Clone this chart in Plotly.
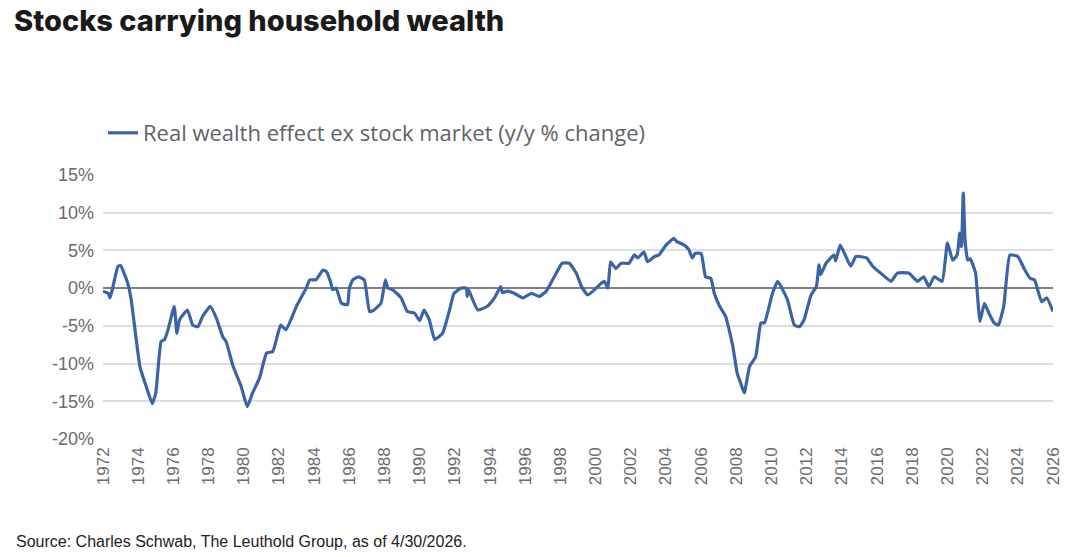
import plotly.graph_objects as go

# ---- data ----
years = [
    1972.0, 1972.3, 1972.4, 1972.55, 1972.85, 1973.0, 1973.4, 1973.6, 1974.1, 1974.45,
    1974.8, 1975.0, 1975.3, 1975.5, 1975.7, 1976.05, 1976.2, 1976.35, 1976.8, 1977.1,
    1977.4, 1977.65, 1978.1, 1978.45, 1978.8, 1979.0, 1979.4, 1979.85, 1980.2, 1980.5,
    1980.9, 1981.3, 1981.65, 1982.1, 1982.4, 1983.0, 1983.55, 1983.75, 1984.1, 1984.5,
    1984.7, 1984.95, 1985.05, 1985.25, 1985.55, 1985.9, 1986.0, 1986.2, 1986.5, 1986.85,
    1987.15, 1987.4, 1987.8, 1988.05, 1988.2, 1988.45, 1988.95, 1989.3, 1989.7, 1990.0,
    1990.25, 1990.55, 1990.85, 1991.3, 1991.7, 1991.95, 1992.35, 1992.65, 1992.7, 1992.75,
    1993.3, 1993.85, 1994.25, 1994.6, 1994.7, 1995.0, 1995.4, 1995.85, 1996.35, 1996.8,
    1997.2, 1997.65, 1998.1, 1998.5, 1998.9, 1999.2, 1999.55, 1999.95, 2000.2, 2000.5,
    2000.7, 2000.85, 2001.15, 2001.45, 2001.9, 2002.2, 2002.4, 2002.75, 2002.95, 2003.35,
    2003.6, 2004.0, 2004.45, 2004.6, 2005.05, 2005.3, 2005.5, 2005.65, 2006.0, 2006.25,
    2006.55, 2006.75, 2007.05, 2007.4, 2007.8, 2008.05, 2008.25, 2008.45, 2008.75, 2009.1,
    2009.4, 2009.6, 2010.05, 2010.35, 2010.9, 2011.3, 2011.6, 2011.85, 2012.25, 2012.55,
    2012.7, 2012.8, 2013.1, 2013.55, 2013.65, 2013.9, 2014.15, 2014.5, 2014.8, 2015.4,
    2015.75, 2016.3, 2016.8, 2017.15, 2017.8, 2018.3, 2018.65, 2018.95, 2019.25, 2019.7,
    2020.0, 2020.3, 2020.55, 2020.7, 2020.8, 2020.9, 2021.0, 2021.15, 2021.3, 2021.6,
    2021.7, 2021.85, 2022.1, 2022.35, 2022.65, 2022.9, 2023.2, 2023.55, 2024.0, 2024.4,
    2024.7, 2024.95, 2025.35, 2025.65, 2026.0,
]
wealth_effect = [
    -0.4, -0.7, -1.3, 0.0, 2.9, 3.0, 0.7, -1.5, -10.4, -13.0,
    -15.3, -13.9, -7.1, -6.8, -5.5, -2.4, -6.0, -4.2, -2.9, -4.9,
    -5.1, -3.8, -2.4, -4.0, -6.4, -7.1, -10.4, -13.0, -15.7, -13.9,
    -11.9, -8.6, -8.4, -4.9, -5.5, -2.4, 0.0, 1.1, 1.1, 2.4,
    2.2, 0.7, -0.2, 0.0, -2.0, -2.2, 0.0, 1.1, 1.5, 1.1,
    -3.1, -2.9, -2.0, 1.1, 0.0, -0.2, -1.3, -3.1, -3.3, -4.3,
    -2.9, -4.2, -6.8, -6.0, -2.9, -0.7, 0.0, 0.0, -1.1, -0.1,
    -2.9, -2.4, -1.3, 0.2, -0.6, -0.4, -0.7, -1.3, -0.7, -1.1,
    -0.4, 1.5, 3.3, 3.3, 2.0, 0.2, -0.9, -0.2, 0.4, 0.9,
    0.0, 3.5, 2.6, 3.3, 3.3, 4.4, 4.0, 4.8, 3.5, 4.2,
    4.4, 5.7, 6.6, 6.2, 5.7, 5.1, 4.0, 4.6, 4.6, 1.5,
    1.3, -0.7, -2.4, -3.8, -7.7, -11.3, -12.6, -13.9, -10.4, -9.1,
    -4.6, -4.6, -0.7, 0.9, -1.5, -4.9, -5.1, -4.2, -0.9, 0.2,
    3.1, 1.8, 3.3, 4.4, 3.6, 5.7, 4.6, 2.9, 4.2, 4.0,
    2.9, 1.8, 0.9, 2.0, 2.0, 0.9, 1.5, 0.2, 1.5, 0.9,
    6.0, 3.7, 4.4, 7.3, 5.5, 12.6, 6.4, 3.7, 3.9, 2.0,
    -0.7, -4.4, -2.0, -3.3, -4.6, -4.9, -2.4, 4.4, 4.2, 2.4,
    1.3, 1.1, -1.8, -1.3, -3.1,
]
tick_years = list(range(1972, 2027, 2))
tick_year_labels = [str(y) for y in tick_years]
y_ticks = [15, 10, 5, 0, -5, -10, -15, -20]
y_tick_labels = ["15%", "10%", "5%", "0%", "-5%", "-10%", "-15%", "-20%"]

series_name = "Real wealth effect ex stock market (y/y % change)"
title_text = "Stocks carrying household wealth"
source_text = "Source: Charles Schwab, The Leuthold Group, as of 4/30/2026."

# ---- layout geometry ----
W, H = 1080, 557
L, R, T, B = 103, 27, 175, 118
plot_w = W - L - R
plot_h = H - T - B

def px_x(px):
    return (px - L) / plot_w

def px_y(py):
    return (H - B - py) / plot_h

fig = go.Figure()
fig.add_trace(go.Scatter(
    x=years, y=wealth_effect, mode="lines", name=series_name,
    line=dict(color="#3b64a6", width=3.2, shape="spline", smoothing=0.4),
))

fig.update_layout(
    width=W, height=H,
    margin=dict(l=L, r=R, t=T, b=B),
    paper_bgcolor="white", plot_bgcolor="white",
    title=dict(
        text=title_text, x=14 / W, xanchor="left", xref="container",
        y=1 - 21 / H, yanchor="middle", yref="container",
        font=dict(family="Inter", size=29, color="#1a1a1a", weight=800),
    ),
    showlegend=True,
    legend=dict(
        x=px_x(103), y=px_y(133), xanchor="left", yanchor="middle",
        font=dict(family="Open Sans", size=22, color="#5f6368"),
        bgcolor="rgba(0,0,0,0)", itemwidth=30,
    ),
    font=dict(family="Liberation Sans", color="#666666"),
)

fig.update_xaxes(
    range=[1972, 2026], tickmode="array", tickvals=tick_years, ticktext=tick_year_labels,
    tickangle=-90, showgrid=False, zeroline=False, showline=False, ticks="",
    tickfont=dict(family="Liberation Sans", size=17, color="#6b6b6b"),
    ticklabelstandoff=4,
)
fig.update_yaxes(
    range=[-20, 15], tickmode="array", tickvals=y_ticks, ticktext=y_tick_labels,
    showgrid=True, gridcolor="#dedede", gridwidth=1.5,
    zeroline=True, zerolinecolor="#808080", zerolinewidth=2,
    showline=False, ticks="",
    tickfont=dict(family="Liberation Sans", size=18, color="#6b6b6b"),
    ticklabelstandoff=8,
)

fig.add_annotation(
    text=source_text, xref="paper", yref="paper",
    x=px_x(14), y=px_y(541), xanchor="left", yanchor="middle",
    showarrow=False, font=dict(family="Liberation Sans", size=16, color="#222222"),
)

fig.write_html("out.html")
